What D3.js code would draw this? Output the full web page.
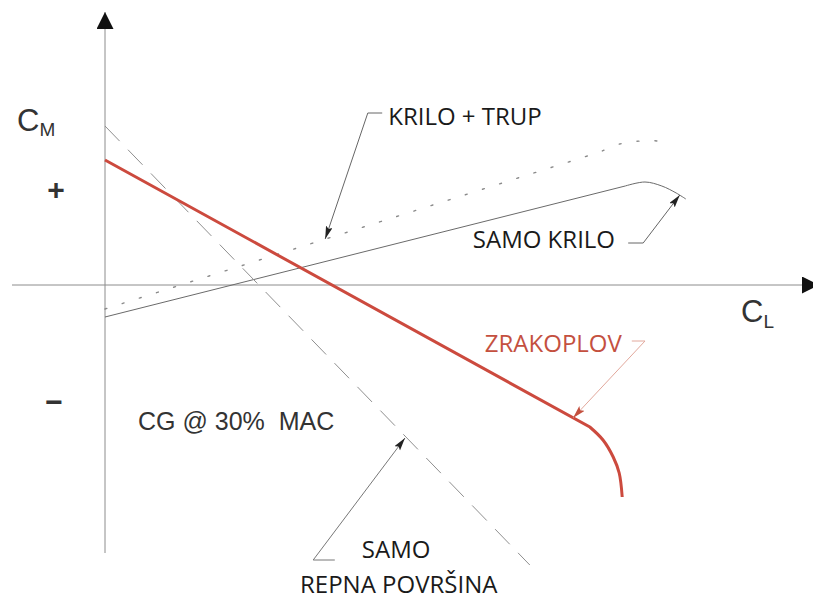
<!DOCTYPE html>
<html>
<head>
<meta charset="utf-8">
<script src="https://cdn.jsdelivr.net/npm/d3@7"></script>
<style>
    body { margin: 0; background: #fff; }
    svg { display: block; }
    .label { font-family: 'Open Sans', sans-serif; font-size: 24px; fill: #1a1a1a; }
    .sym { font-family: 'Liberation Sans', Arial, sans-serif; fill: #333; }
</style>
</head>
<body>
<svg id="chart"></svg>
<script>
// C_L on x, C_M on y (arbitrary units)
const clDomain = [-0.155, 1.19]
const cmDomain = [-1.34, 1.375]

// aeroplane (wing + body + tail)
const zrakoplov = [[0, 0.625], [0.808, -0.71], [0.83, -0.775], [0.847, -0.86], [0.857, -0.94], [0.862, -1.06]]
// tail surface only
const repnaPovrsina = [[0, 0.795], [0.708, -1.4]]
// wing only
const samoKrilo = [[0, -0.16], [0.867, 0.495], [0.9, 0.515], [0.928, 0.495], [0.952, 0.46], [0.968, 0.43]]
// wing + fuselage
const kriloTrup = [[0, -0.12], [0.825, 0.665], [0.858, 0.705], [0.892, 0.72], [0.92, 0.72], [0.942, 0.70]]

// callouts: label text, label anchor, leader path (last point = arrow tip)
const callouts = [
    { text: 'KRILO + TRUP', at: [0.472, 0.80], leader: [[0.462, 0.86], [0.438, 0.86], [0.367, 0.23]], color: '#1a1a1a', line: '#666' },
    { text: 'SAMO KRILO', at: [0.613, 0.185], leader: [[0.872, 0.21], [0.897, 0.21], [0.958, 0.45]], color: '#1a1a1a', line: '#666' },
    { text: 'ZRAKOPLOV', at: [0.633, -0.335], leader: [[0.878, -0.28], [0.9, -0.28], [0.78, -0.665]], color: '#c4503f', line: '#e2a89c' },
    { text: 'SAMO', at: [0.428, -1.365], leader: [[0.383, -1.375], [0.347, -1.375], [0.5, -0.765]], color: '#1a1a1a', line: '#777' },
]

const width = 813
const height = 599

const svg = d3.select('#chart')
    .attr('width', width)
    .attr('height', height)
    .attr('viewBox', `0 0 ${width} ${height}`)

const xScale = d3.scaleLinear().domain(clDomain).range([12, 819])
const yScale = d3.scaleLinear().domain(cmDomain).range([553, 10])

const defs = svg.append('defs')
defs.append('marker')
    .attr('id', 'axis-arrow')
    .attr('markerUnits', 'userSpaceOnUse')
    .attr('markerWidth', 18).attr('markerHeight', 18)
    .attr('refX', 17).attr('refY', 8.5)
    .attr('orient', 'auto')
    .append('path')
    .attr('d', 'M0,0L17,8.5L0,17Z')
    .attr('fill', '#111')
defs.append('marker')
    .attr('id', 'lead-arrow')
    .attr('markerUnits', 'userSpaceOnUse')
    .attr('markerWidth', 14).attr('markerHeight', 8)
    .attr('refX', 13).attr('refY', 3.5)
    .attr('orient', 'auto')
    .append('path')
    .attr('d', 'M0,0L13,3.5L0,7L2.5,3.5Z')
    .attr('fill', '#222')
defs.append('marker')
    .attr('id', 'lead-arrow-red')
    .attr('markerUnits', 'userSpaceOnUse')
    .attr('markerWidth', 14).attr('markerHeight', 8)
    .attr('refX', 13).attr('refY', 3.5)
    .attr('orient', 'auto')
    .append('path')
    .attr('d', 'M0,0L13,3.5L0,7L2.5,3.5Z')
    .attr('fill', '#c4503f')

// axes (no ticks, just the lines with arrowheads)
const xAxis = d3.axisBottom(xScale).tickValues([]).tickSizeOuter(0)
const yAxis = d3.axisLeft(yScale).tickValues([]).tickSizeOuter(0)

const xAxisGroup = svg.append('g')
    .attr('transform', `translate(0,${yScale(0)})`)
    .call(xAxis)
const yAxisGroup = svg.append('g')
    .attr('transform', `translate(${xScale(0)},0)`)
    .call(yAxis)

xAxisGroup.select('.domain')
    .attr('stroke', '#8c8c8c').attr('stroke-width', 1)
    .attr('d', `M${xScale(clDomain[0])},0H${xScale(clDomain[1])}`)
    .attr('marker-end', 'url(#axis-arrow)')
yAxisGroup.select('.domain')
    .attr('stroke', '#8c8c8c').attr('stroke-width', 1)
    .attr('d', `M0,${yScale(cmDomain[0])}V${yScale(cmDomain[1]) + 2}`)
    .attr('marker-end', 'url(#axis-arrow)')

// straight run up to the second point, then a smooth bend through the rest
const straight = d3.line().x(d => xScale(d[0])).y(d => yScale(d[1]))
const bend = d3.line().x(d => xScale(d[0])).y(d => yScale(d[1])).curve(d3.curveCatmullRom.alpha(0.5))
function curvePath(pts) {
    if (pts.length <= 2) return straight(pts)
    return straight(pts.slice(0, 2)) + bend(pts.slice(1)).replace(/^M[^CLZ]*/, '')
}

svg.append('path').datum(kriloTrup)
    .attr('d', curvePath).attr('fill', 'none')
    .attr('stroke', '#8a8a8a').attr('stroke-width', 1.4)
    .attr('stroke-dasharray', '2,16')
    .attr('stroke-linecap', 'round')

svg.append('path').datum(samoKrilo)
    .attr('d', curvePath).attr('fill', 'none')
    .attr('stroke', '#6a6a6a').attr('stroke-width', 1)

svg.append('path').datum(repnaPovrsina)
    .attr('d', curvePath).attr('fill', 'none')
    .attr('stroke', '#8f8f8f').attr('stroke-width', 1)
    .attr('stroke-dasharray', '21,12')

svg.append('path').datum(zrakoplov)
    .attr('d', curvePath).attr('fill', 'none')
    .attr('stroke', '#cc4a3e').attr('stroke-width', 3)

// callouts
callouts.forEach(c => {
    const red = c.color !== '#1a1a1a'
    svg.append('path').datum(c.leader)
        .attr('d', straight).attr('fill', 'none')
        .attr('stroke', c.line).attr('stroke-width', 1)
        .attr('marker-end', red ? 'url(#lead-arrow-red)' : 'url(#lead-arrow)')
    svg.append('text').attr('class', 'label')
        .attr('x', xScale(c.at[0])).attr('y', yScale(c.at[1]))
        .style('fill', c.color)
        .text(c.text)
})
svg.append('text').attr('class', 'label')
    .attr('x', xScale(0.325)).attr('y', yScale(-1.54))
    .text('REPNA POVRŠINA')

svg.append('text').attr('class', 'sym')
    .attr('x', xScale(0.055)).attr('y', yScale(-0.725))
    .attr('font-size', 25)
    .style('white-space', 'pre')
    .text('CG @ 30%  MAC')

// axis symbols
const cm = svg.append('text').attr('class', 'sym')
    .attr('x', 17).attr('y', 131).attr('font-size', 31)
cm.append('tspan').text('C')
cm.append('tspan').attr('font-size', 19).attr('dy', 5).text('M')

const cl = svg.append('text').attr('class', 'sym')
    .attr('x', 741).attr('y', 322).attr('font-size', 31)
cl.append('tspan').text('C')
cl.append('tspan').attr('font-size', 19).attr('dy', 6).text('L')

svg.append('text').attr('class', 'sym')
    .attr('x', 56).attr('y', yScale(0.475) + 10)
    .attr('text-anchor', 'middle').attr('font-size', 30).attr('font-weight', 'bold')
    .text('+')
svg.append('text').attr('class', 'sym')
    .attr('x', 54).attr('y', yScale(-0.585) + 10)
    .attr('text-anchor', 'middle').attr('font-size', 30).attr('font-weight', 'bold')
    .text('−')
</script>
</body>
</html>
